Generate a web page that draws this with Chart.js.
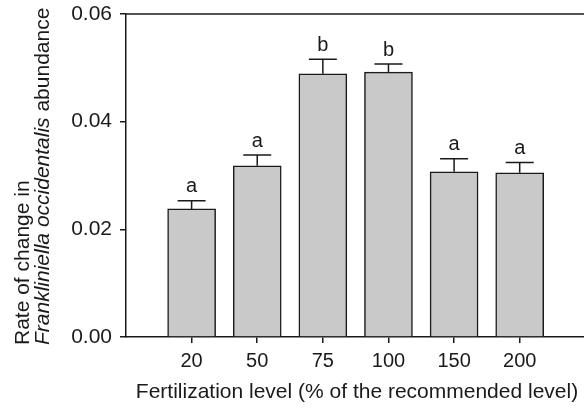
<!DOCTYPE html>
<html>
<head>
<meta charset="utf-8">
<script src="https://cdn.jsdelivr.net/npm/chart.js@4/dist/chart.umd.min.js"></script>
<style>
  html, body { margin: 0; padding: 0; background: #fff; }
  #wrap { width: 584px; height: 414px; }
</style>
</head>
<body>
<div id="wrap"><canvas id="canvas-rate"></canvas></div>
<script>
const categories = ['20', '50', '75', '100', '150', '200'];
const rates = [0.0238, 0.0318, 0.0489, 0.0492, 0.0307, 0.0305];
const errors = [0.0015, 0.0020, 0.0027, 0.0015, 0.0024, 0.0019];
const letters = ['a', 'a', 'b', 'b', 'a', 'a'];
const yTicks = [0, 0.02, 0.04, 0.06];

const FONT = '"Liberation Sans", Arial, sans-serif';
const INK = '#1a1a1a';

// error bars, group letters, top frame line and both axis titles
const extras = {
  id: 'extras',
  afterDatasetsDraw(chart) {
    const ctx = chart.ctx;
    const x = chart.scales.x;
    const y = chart.scales.y;
    const area = chart.chartArea;
    ctx.save();
    ctx.strokeStyle = INK;
    ctx.lineWidth = 1.5;

    ctx.beginPath();
    ctx.moveTo(area.left, area.top);
    ctx.lineTo(area.right, area.top);
    ctx.stroke();

    ctx.fillStyle = INK;
    ctx.textAlign = 'center';
    ctx.textBaseline = 'middle';
    ctx.font = '20px ' + FONT;
    rates.forEach((v, i) => {
      const px = x.getPixelForValue(i + 1);
      const yBar = y.getPixelForValue(v);
      const yTop = y.getPixelForValue(v + errors[i]);
      ctx.beginPath();
      ctx.moveTo(px, yBar);
      ctx.lineTo(px, yTop);
      ctx.moveTo(px - 14, yTop);
      ctx.lineTo(px + 14, yTop);
      ctx.stroke();
      ctx.fillText(letters[i], px, yTop - 14);
    });

    // x title
    ctx.font = '21px ' + FONT;
    ctx.fillText('Fertilization level (% of the recommended level)', 357, 392);

    // y title, two lines, mixed italic
    ctx.rotate(-Math.PI / 2);
    ctx.textAlign = 'left';
    ctx.font = '21px ' + FONT;
    ctx.fillText('Rate of change in', -345, 23);
    ctx.font = 'italic 21px ' + FONT;
    const it = 'Frankliniella occidentalis';
    ctx.fillText(it, -345, 43);
    const w = ctx.measureText(it).width;
    ctx.font = '21px ' + FONT;
    ctx.fillText(' abundance', -345 + w, 43);
    ctx.restore();
  }
};

new Chart(document.getElementById('canvas-rate').getContext('2d'), {
  type: 'bar',
  data: {
    datasets: [
      {
        label: 'Rate of change',
        data: rates.map((v, i) => ({ x: i + 1, y: v })),
        backgroundColor: '#c9c9c9',
        borderColor: INK,
        borderWidth: 1.5,
        barThickness: 48,
      },
    ],
  },
  options: {
    responsive: true,
    maintainAspectRatio: false,
    animation: false,
    layout: { padding: { top: 14, right: 0, left: 0, bottom: 0 } },
    plugins: {
      legend: { display: false },
      tooltip: { enabled: false },
    },
    scales: {
      x: {
        type: 'linear',
        offset: false,
        min: 0,
        max: 6.98,
        afterFit(scale) { scale.height = 77; },
        afterBuildTicks(scale) {
          scale.ticks = [0, 1, 2, 3, 4, 5, 6].map(v => ({ value: v }));
        },
        ticks: {
          autoSkip: false,
          maxRotation: 0,
          padding: 6,
          color: INK,
          font: { family: FONT, size: 20 },
          callback: v => categories[v - 1] || '',
        },
        grid: {
          offset: false,
          drawOnChartArea: false,
          tickLength: 6,
          lineWidth: 1.5,
          color: c => (c.tick && c.tick.value === 0 ? 'rgba(0,0,0,0)' : INK),
        },
        border: { color: INK, width: 1.5 },
      },
      y: {
        min: 0,
        max: 0.06,
        afterFit(scale) {
          scale.width = 126;
          scale.paddingTop = 0;
          scale.paddingBottom = 0;
        },
        afterBuildTicks(scale) {
          scale.ticks = yTicks.map(v => ({ value: v }));
        },
        ticks: {
          padding: 8,
          color: INK,
          font: { family: FONT, size: 21 },
          callback: v => v.toFixed(2),
        },
        grid: {
          drawOnChartArea: false,
          tickLength: 6,
          lineWidth: 1.5,
          color: INK,
        },
        border: { color: INK, width: 1.5 },
      },
    },
  },
  plugins: [extras],
});
</script>
</body>
</html>
